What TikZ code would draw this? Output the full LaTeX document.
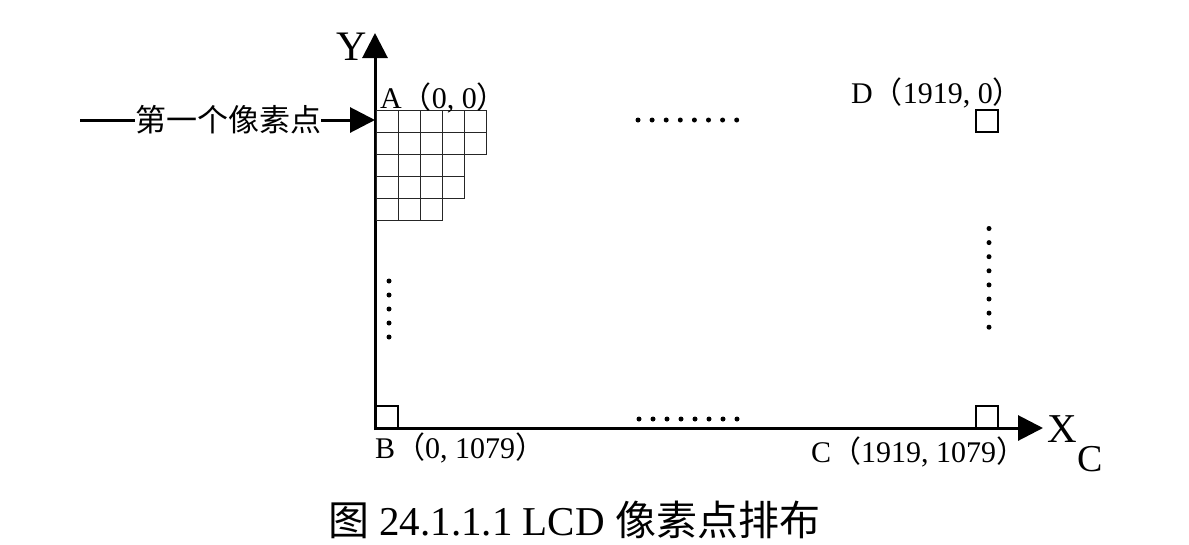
\documentclass[tikz,border=0pt]{standalone}
\usepackage{fontspec}
\setmainfont{Liberation Serif}
\newfontfamily\cjk{Noto Sans CJK SC}
\usetikzlibrary{arrows.meta}
\newcommand\lblfont{\fontsize{30}{30}\selectfont}
\newcommand\lp{{\cjk （}}
\newcommand\rp{{\cjk ）}}
\newcommand\cm{,\hspace{0.25em}}
\begin{document}
\begin{tikzpicture}[x=1pt,y=-1pt,
  axis/.style={line width=3pt},
  tipArrow/.style={-{Triangle[length=25pt,width=25pt]}},
  cell/.style={line width=1pt, draw=black!85},
  pbox/.style={draw, line width=1.3pt, minimum size=22pt, inner sep=0pt},
  lbl/.style={inner sep=0pt, anchor=base west, font=\lblfont},
  dot/.style={fill=black}]
\useasboundingbox (0,0) rectangle (1189,544);
% axes
\coordinate (Ytip) at (375,33);
\coordinate (Xtip) at (1043,428);
\coordinate (Ybase) at (375,430);
\coordinate (Xbase) at (375,428);
\draw[axis,tipArrow] (Ybase) -- (Ytip);
\draw[axis,tipArrow] (Xbase) -- (Xtip);
\node[inner sep=0pt, font=\fontsize{42}{42}\selectfont] (ylab) at (352,47) {Y};
\node[inner sep=0pt, font=\fontsize{41}{41}\selectfont] (xlab) at (1062,429) {X};
\node[inner sep=0pt, font=\fontsize{38}{38}\selectfont] (xsub) at (1090,459) {C};
% first pixel arrow
\node[inner sep=0pt, font=\fontsize{31}{31}\cjk] (first) at (228,120) {第一个像素点};
\coordinate (firstStart) at (80,120);
\coordinate (firstTip) at (375,120);
\draw[line width=3pt] (firstStart) -- (first.west);
\draw[line width=3pt,tipArrow] (first.east) -- (firstTip);
% grid of pixels
\foreach \r/\n in {0/5,1/5,2/4,3/4,4/3}{
  \foreach \c in {1,...,\n}{
    \draw[cell] ({376+22*(\c-1)},{110+22*\r}) rectangle ++(22,22);
  }
}
% corner pixel boxes
\node[pbox] (Dbox) at (987,121) {};
\node[pbox] (Bbox) at (387,417) {};
\node[pbox] (Cbox) at (987,417) {};
% labels
\node[lbl] (Alab) at (380,108) {A\lp0\cm0\rp};
\node[lbl] (Dlab) at (851,103) {D\lp1919\cm0\rp};
\node[lbl] (Blab) at (375,458) {B\lp0\cm1079\rp};
\node[lbl] (Clab) at (811,462) {C\lp1919\cm1079\rp};
% dots
\foreach \i in {0,...,7}{
  \fill[dot] ({638+14.1*\i},120) circle (2.5pt);
  \fill[dot] ({639+14*\i},419) circle (2.5pt);
  \fill[dot] (989,{228.5+14.1*\i}) circle (2.5pt);
}
\foreach \i in {0,...,4}{
  \fill[dot] (389,{281+14*\i}) circle (2.5pt);
}
% caption
\node[inner sep=0pt, anchor=base west, font=\fontsize{41}{41}\selectfont] (cap) at (328,535)
  {{\cjk 图} 24.1.1.1 LCD {\cjk 像素点排布}};
\end{tikzpicture}
\end{document}
